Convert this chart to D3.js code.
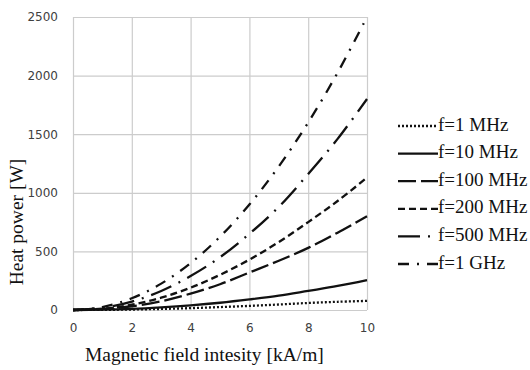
<!DOCTYPE html>
<html>
<head>
<meta charset="utf-8">
<script src="https://cdn.jsdelivr.net/npm/d3@7"></script>
<style>
  body { margin: 0; background: #fff; }
  svg { display: block; }
</style>
</head>
<body>
<figure id="chart" style="margin:0"></figure>
<script>
// data
const fieldValues = [0, 1, 2, 3, 4, 5, 6, 7, 8, 9, 10];   // kA/m
const seriesNames = ["f=1 MHz", "f=10 MHz", "f=100 MHz", "f=200 MHz", "f=500 MHz", "f=1 GHz"];
const power1MHz   = [0, 1, 4, 9, 16, 25, 35, 47, 60, 70, 78];
const power10MHz  = [0, 2.5, 10, 23, 40, 62, 90, 122, 163, 205, 255];
const power100MHz = [0, 8, 32, 75, 140, 220, 320, 420, 530, 660, 800];
const power200MHz = [0, 11, 45, 105, 190, 300, 430, 580, 750, 930, 1130];
const power500MHz = [0, 18, 72, 162, 290, 450, 650, 880, 1160, 1460, 1800];
const power1GHz   = [0, 25, 100, 225, 400, 625, 900, 1225, 1600, 2025, 2500];
const xTicks = [0, 2, 4, 6, 8, 10];
const yTicks = [0, 500, 1000, 1500, 2000, 2500];

const seriesValues = [power1MHz, power10MHz, power100MHz, power200MHz, power500MHz, power1GHz];
const dashes = ["2,2", null, "18,5", "7,4", "22,8,2,8", "11,8,2,8"];

const width = 530, height = 370;
const plot = { left: 73, right: 367, top: 17, bottom: 310 };

const svg = d3.select("#chart")
  .append("svg")
  .attr("width", width)
  .attr("height", height);

const x = d3.scaleLinear().domain([0, 10]).range([plot.left, plot.right]);
const y = d3.scaleLinear().domain([0, 2500]).range([plot.bottom, plot.top]);

// grid
svg.append("g")
  .attr("transform", "translate(0," + plot.bottom + ")")
  .call(d3.axisBottom(x).tickValues(xTicks).tickSize(-(plot.bottom - plot.top)).tickFormat(""))
  .call(g => g.select(".domain").remove())
  .selectAll("line").attr("stroke", "#cccccc").attr("stroke-width", 1.2);

svg.append("g")
  .attr("transform", "translate(" + plot.left + ",0)")
  .call(d3.axisLeft(y).tickValues(yTicks).tickSize(-(plot.right - plot.left)).tickFormat(""))
  .call(g => g.select(".domain").remove())
  .selectAll("line").attr("stroke", "#cccccc").attr("stroke-width", 1.2);

// tick labels
svg.append("g")
  .attr("transform", "translate(" + (plot.left - 12) + ",0)")
  .call(d3.axisLeft(y).tickValues(yTicks).tickSize(0).tickFormat(d3.format("d")))
  .call(g => g.select(".domain").remove())
  .selectAll("text")
  .attr("font-family", "DejaVu Sans")
  .attr("font-size", 12)
  .attr("fill", "#404040");

svg.append("g")
  .attr("transform", "translate(0," + (plot.bottom + 10) + ")")
  .call(d3.axisBottom(x).tickValues(xTicks).tickSize(0).tickFormat(d3.format("d")))
  .call(g => g.select(".domain").remove())
  .selectAll("text")
  .attr("font-family", "DejaVu Sans")
  .attr("font-size", 12)
  .attr("fill", "#404040");

// curves
const line = d3.line()
  .x((d, i) => x(fieldValues[i]))
  .y(d => y(d))
  .curve(d3.curveCatmullRom);

svg.selectAll(".series")
  .data(seriesValues)
  .enter()
  .append("path")
  .attr("class", "series")
  .attr("d", d => line(d))
  .attr("fill", "none")
  .attr("stroke", "#111")
  .attr("stroke-width", 2.3)
  .attr("stroke-dasharray", (d, i) => dashes[i]);

// axis titles
svg.append("text")
  .attr("x", 85)
  .attr("y", 361)
  .attr("font-family", "Liberation Serif")
  .attr("font-size", 19.5)
  .attr("fill", "#111")
  .text("Magnetic field intesity [kA/m]");

svg.append("text")
  .attr("transform", "translate(23,222) rotate(-90)")
  .attr("text-anchor", "middle")
  .attr("font-family", "Liberation Serif")
  .attr("font-size", 19.5)
  .attr("fill", "#111")
  .text("Heat power [W]");

// legend
const legend = svg.selectAll(".legend")
  .data(seriesNames)
  .enter()
  .append("g")
  .attr("class", "legend")
  .attr("transform", (d, i) => "translate(398," + (126 + i * 27.6) + ")");

legend.append("line")
  .attr("x1", 0).attr("x2", 40)
  .attr("stroke", "#111")
  .attr("stroke-width", 2.3)
  .attr("stroke-dasharray", (d, i) => dashes[i]);

legend.append("text")
  .attr("x", 40)
  .attr("y", 4.5)
  .attr("font-family", "Liberation Serif")
  .attr("font-size", 19)
  .attr("fill", "#111")
  .text(d => d);
</script>
</body>
</html>
